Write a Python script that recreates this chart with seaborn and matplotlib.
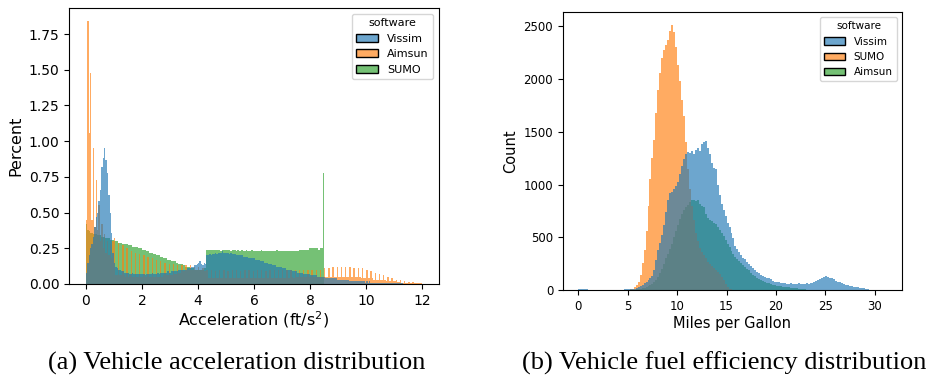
import numpy as np
import pandas as pd
import matplotlib
matplotlib.use("Agg")
import matplotlib.pyplot as plt
import seaborn as sns

# --- (a) acceleration, percent per 0.05 ft/s^2 bin, starting at 0 ---
acc_order = ["Vissim", "Aimsun", "SUMO"]
acc_bin_width = 0.05

vissim_acc = [
    0.08, 0.15, 0.20, 0.25, 0.28, 0.33, 0.40, 0.47, 0.50, 0.58, 0.66, 0.82, 0.88, 0.95, 0.87, 0.78, 0.62, 0.50, 0.36, 0.22,
    0.15, 0.12, 0.11, 0.10, 0.10, 0.09, 0.09, 0.08, 0.08, 0.08, 0.08, 0.07, 0.07, 0.08, 0.07, 0.07, 0.07, 0.07, 0.07, 0.07,
    0.07, 0.07, 0.06, 0.07, 0.07, 0.07, 0.07, 0.08, 0.07, 0.07, 0.07, 0.08, 0.07, 0.08, 0.08, 0.08, 0.08, 0.08, 0.09, 0.08,
    0.08, 0.09, 0.09, 0.09, 0.09, 0.09, 0.10, 0.10, 0.10, 0.10, 0.10, 0.10, 0.11, 0.11, 0.11, 0.12, 0.12, 0.13, 0.13, 0.14,
    0.15, 0.16, 0.14, 0.13, 0.15, 0.14, 0.20, 0.20, 0.21, 0.20, 0.21, 0.21, 0.22, 0.21, 0.22, 0.22, 0.22, 0.23, 0.22, 0.22,
    0.22, 0.22, 0.21, 0.22, 0.21, 0.21, 0.21, 0.20, 0.20, 0.20, 0.20, 0.20, 0.19, 0.19, 0.19, 0.19, 0.18, 0.18, 0.18, 0.18,
    0.18, 0.17, 0.17, 0.17, 0.16, 0.16, 0.16, 0.15, 0.15, 0.15, 0.14, 0.14, 0.14, 0.13, 0.13, 0.13, 0.12, 0.12, 0.12, 0.12,
    0.11, 0.11, 0.11, 0.10, 0.10, 0.10, 0.10, 0.09, 0.09, 0.09, 0.09, 0.08, 0.08, 0.08, 0.08, 0.07, 0.07, 0.07, 0.07, 0.07,
    0.06, 0.06, 0.06, 0.06, 0.06, 0.05, 0.05, 0.05, 0.05, 0.05, 0.05, 0.04, 0.04, 0.04, 0.04, 0.04, 0.04, 0.04, 0.04, 0.03,
    0.03, 0.03, 0.03, 0.03, 0.03, 0.03, 0.03, 0.03, 0.02, 0.02, 0.02, 0.02, 0.02, 0.02, 0.02, 0.02, 0.02, 0.02, 0.02, 0.01,
    0.02, 0.01, 0.02, 0.01, 0.01, 0.01, 0.01, 0.01, 0.01, 0.01, 0.01, 0.01, 0.01, 0.01, 0.005, 0.01, 0.005, 0.005, 0.005, 0.005,
    0.005, 0.005, 0.005, 0.004, 0.004, 0.004, 0.003, 0.003, 0.003, 0.003, 0.002, 0.002, 0.002, 0.002, 0.002, 0.001, 0.001, 0.001, 0.001, 0.001,
]

aimsun_acc = [
    0.45, 1.84, 1.06, 1.48, 0.45, 0.95, 0.40, 0.73, 0.38, 0.55, 0.30, 0.42, 0.25, 0.35, 0.22, 0.30, 0.20, 0.28, 0.18, 0.30,
    # 1.0 - 4.3, discrete values give a comb
    0.32, 0.06, 0.06, 0.29, 0.06, 0.06, 0.27, 0.06, 0.05, 0.25, 0.05, 0.06, 0.23, 0.05, 0.05, 0.22, 0.05, 0.05,
    0.21, 0.05, 0.05, 0.20, 0.05, 0.05, 0.19, 0.05, 0.05, 0.18, 0.05, 0.05, 0.17, 0.05, 0.05, 0.16, 0.05, 0.06,
    0.15, 0.06, 0.06, 0.14, 0.06, 0.06, 0.14, 0.07, 0.07, 0.13, 0.08, 0.08, 0.13, 0.09, 0.09, 0.13, 0.10, 0.10,
    0.13, 0.10, 0.10, 0.12, 0.10, 0.10, 0.12, 0.10, 0.10, 0.11, 0.09, 0.09,
    # 4.3 - 8.5
    0.10, 0.04, 0.04, 0.10, 0.04, 0.04, 0.09, 0.04, 0.04, 0.10, 0.04, 0.04, 0.10, 0.04, 0.04, 0.09, 0.04, 0.04,
    0.10, 0.04, 0.04, 0.10, 0.04, 0.04, 0.09, 0.04, 0.04, 0.10, 0.04, 0.04, 0.10, 0.04, 0.04, 0.09, 0.04, 0.04,
    0.10, 0.04, 0.04, 0.10, 0.04, 0.04, 0.09, 0.04, 0.04, 0.10, 0.04, 0.04, 0.10, 0.04, 0.04, 0.10, 0.04, 0.04,
    0.10, 0.04, 0.04, 0.10, 0.04, 0.04, 0.10, 0.05, 0.04, 0.10, 0.05, 0.05, 0.10, 0.05, 0.05, 0.10, 0.05, 0.05,
    0.10, 0.05, 0.05, 0.10, 0.05, 0.05, 0.10, 0.05, 0.05, 0.10, 0.05, 0.05,
    # 8.5 - 10
    0.11, 0.05, 0.05, 0.11, 0.05, 0.05, 0.12, 0.05, 0.05, 0.12, 0.05, 0.05, 0.12, 0.05, 0.05,
    0.12, 0.05, 0.05, 0.12, 0.05, 0.05, 0.11, 0.05, 0.05, 0.11, 0.05, 0.04, 0.11, 0.04, 0.04,
    # 10 - 12
    0.10, 0.04, 0.04, 0.09, 0.04, 0.03, 0.08, 0.03, 0.03, 0.07, 0.03, 0.03, 0.06, 0.03, 0.02,
    0.05, 0.02, 0.02, 0.04, 0.02, 0.02, 0.03, 0.015, 0.015, 0.025, 0.01, 0.01, 0.02, 0.01, 0.01,
    0.015, 0.008, 0.008, 0.012, 0.006, 0.006, 0.01, 0.005, 0.005, 0.005,
]

sumo_acc = [
    0.42, 0.38, 0.37, 0.36, 0.36, 0.35, 0.35, 0.35, 0.34, 0.34, 0.34, 0.33, 0.33, 0.33, 0.32, 0.32, 0.32, 0.31, 0.31, 0.31,
    0.30, 0.30, 0.30, 0.29, 0.29, 0.29, 0.28, 0.28, 0.28, 0.28, 0.27, 0.27, 0.27, 0.26, 0.26, 0.26, 0.26, 0.25, 0.25, 0.25,
    0.24, 0.24, 0.24, 0.23, 0.23, 0.22, 0.22, 0.22, 0.21, 0.21, 0.20, 0.20, 0.20, 0.19, 0.19, 0.18, 0.18, 0.18, 0.17, 0.17,
    0.17, 0.16, 0.16, 0.16, 0.15, 0.15, 0.14, 0.14, 0.14, 0.13, 0.13, 0.12, 0.12, 0.12, 0.11, 0.11, 0.11, 0.10, 0.10, 0.10,
    0.10, 0.10, 0.10, 0.10, 0.11, 0.11, 0.24, 0.24, 0.24, 0.24, 0.24, 0.24, 0.24, 0.24, 0.24, 0.24, 0.23, 0.24, 0.24, 0.24,
    0.24, 0.24, 0.24, 0.23, 0.24, 0.24, 0.24, 0.23, 0.24, 0.23, 0.23, 0.24, 0.23, 0.23, 0.24, 0.23, 0.23, 0.23, 0.24, 0.23,
    0.23, 0.23, 0.23, 0.23, 0.23, 0.24, 0.23, 0.23, 0.23, 0.23, 0.23, 0.23, 0.23, 0.23, 0.23, 0.23, 0.24, 0.23, 0.23, 0.23,
    0.23, 0.23, 0.23, 0.23, 0.23, 0.23, 0.23, 0.23, 0.23, 0.23, 0.23, 0.23, 0.24, 0.24, 0.24, 0.24, 0.24, 0.24, 0.24, 0.25,
    0.25, 0.25, 0.25, 0.25, 0.25, 0.25, 0.24, 0.25, 0.25, 0.78,
]

# --- (b) fuel efficiency, count per 0.2 mpg bin ---
mpg_order = ["Vissim", "SUMO", "Aimsun"]
mpg_bin_width = 0.2

vissim_mpg_start = 0.0
vissim_mpg = [
    10, 8, 6, 5, 5,  4, 4, 4, 3, 3,  3, 3, 3, 3, 3,  3, 3, 3, 3, 4,  4, 4, 4, 5, 5,
    5, 5, 6, 10, 15,  25, 35, 50, 65, 80,  95, 110, 130, 190, 280,  380, 450, 520, 620, 740,
    850, 920, 930, 960, 990,  1020, 1100, 1180, 1240, 1290,  1310, 1300, 1320, 1290, 1330,
    1350, 1320, 1380, 1400, 1410,  1350, 1290, 1200, 1160, 1150,  1000, 900, 820, 760, 700,
    640, 600, 540, 490, 420,  390, 360, 330, 305, 290,  270, 250, 230, 205, 190,
    175, 160, 145, 135, 125,  115, 110, 100, 90, 80,  78, 72, 70, 65, 62,
    60, 58, 65, 60, 58,  55, 62, 55, 58, 60,  62, 60, 65, 70, 78,
    85, 95, 105, 118, 125,  132, 125, 115, 110, 100,  90, 80, 72, 65, 58,
    50, 45, 40, 35, 32,  28, 25, 20, 18, 16,  14, 12, 4, 3, 2,  2, 2, 1, 1, 1,  1,
]

sumo_mpg_start = 5.0
sumo_mpg = [
    3, 5, 10, 25, 45,  80, 140, 260, 380, 560,  800, 1050, 1250, 1420, 1680,
    1900, 2060, 2200, 2280, 2320,  2370, 2460, 2510, 2450, 2300,  2130, 1980, 1800, 1650, 1400,
    1150, 960, 800, 660, 540,  460, 400, 360, 330, 300,  270, 250, 225, 210, 190,
    170, 150, 125, 95, 60,  30, 12, 5,
]

aimsun_mpg_start = 5.0
aimsun_mpg = [
    0, 1, 2, 3, 5,  8, 12, 18, 22, 28,  35, 45, 58, 72, 95,  125, 160, 200, 245, 300,
    345, 390, 440, 500, 560,  620, 670, 720, 760, 790,  810, 830, 850, 855, 840,
    850, 820, 800, 790, 720,  680, 665, 650, 640, 630,  600, 570, 545, 510, 470,
    440, 410, 370, 340, 315,  295, 275, 255, 235, 215,  200, 185, 165, 145, 130,
    118, 108, 98, 90, 80,  70, 62, 55, 50, 46,  42, 38, 34, 30, 28,
    26, 24, 22, 20, 18,  15, 12, 10, 8, 5,
]


def hist_frame(series, width):
    rows = []
    for name, (start, heights) in series.items():
        for i, h in enumerate(heights):
            rows.append((name, start + width * (i + 0.5), h))
    return pd.DataFrame(rows, columns=["software", "value", "weight"])


def outline_legend(ax, size):
    sns.move_legend(ax, "upper right", fontsize=size, title_fontsize=size)
    for h in ax.get_legend().legend_handles:
        h.set_edgecolor("black")
        h.set_linewidth(1)


acc_df = hist_frame({"Vissim": (0.0, vissim_acc),
                     "Aimsun": (0.0, aimsun_acc),
                     "SUMO": (0.0, sumo_acc)}, acc_bin_width)
mpg_df = hist_frame({"Vissim": (vissim_mpg_start, vissim_mpg),
                     "SUMO": (sumo_mpg_start, sumo_mpg),
                     "Aimsun": (aimsun_mpg_start, aimsun_mpg)}, mpg_bin_width)

acc_edges = list(np.linspace(0, 12, 241))
mpg_edges = list(np.linspace(0, 31.2, 157))

plt.rcParams["font.family"] = ["DejaVu Sans"]
fig = plt.figure(figsize=(9.35, 3.79), dpi=100)

ax1 = fig.add_axes([0.0738, 0.2507, 0.3957, 0.728])
sns.histplot(data=acc_df, x="value", weights="weight", hue="software",
             hue_order=acc_order, bins=acc_edges, linewidth=0, alpha=0.65, ax=ax1)
ax1.set_xlabel("Acceleration (ft/s$^2$)", fontsize=11.5, labelpad=1)
ax1.set_ylabel("Percent", fontsize=11.5)
ax1.set_xticks([0, 2, 4, 6, 8, 10, 12])
ax1.set_yticks([0, 0.25, 0.5, 0.75, 1.0, 1.25, 1.5, 1.75])
ax1.tick_params(labelsize=10)
outline_legend(ax1, 8)

ax2 = fig.add_axes([0.6021, 0.2348, 0.3626, 0.7335])
sns.histplot(data=mpg_df, x="value", weights="weight", hue="software",
             hue_order=mpg_order, bins=mpg_edges, linewidth=0, alpha=0.65, ax=ax2)
ax2.set_xlabel("Miles per Gallon", fontsize=10.5, labelpad=2)
ax2.set_ylabel("Count", fontsize=10.5)
ax2.set_xticks([0, 5, 10, 15, 20, 25, 30])
ax2.tick_params(labelsize=8.5)
outline_legend(ax2, 7.5)

fig.text(0.253, 0.042, "(a) Vehicle acceleration distribution",
         ha="center", va="center", fontsize=19, family="Liberation Serif")
fig.text(0.775, 0.042, "(b) Vehicle fuel efficiency distribution",
         ha="center", va="center", fontsize=19, family="Liberation Serif")

fig.savefig("out.png", dpi=100)
